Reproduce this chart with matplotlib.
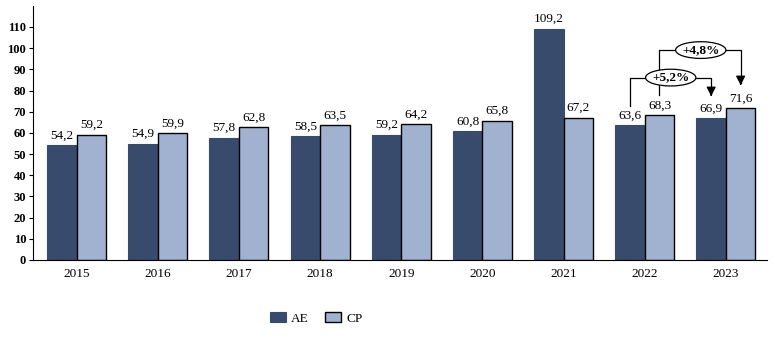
import matplotlib
matplotlib.use("Agg")
import matplotlib.pyplot as plt
from matplotlib.patches import Ellipse
import numpy as np

years = ["2015", "2016", "2017", "2018", "2019", "2020", "2021", "2022", "2023"]
ae = [54.2, 54.9, 57.8, 58.5, 59.2, 60.8, 109.2, 63.6, 66.9]
cp = [59.2, 59.9, 62.8, 63.5, 64.2, 65.8, 67.2, 68.3, 71.6]
growth_labels = ["+5,2%", "+4,8%"]
yticks = list(range(0, 111, 10))

plt.rcParams['font.family'] = ['Liberation Serif', 'DejaVu Serif']

fig = plt.figure(figsize=(7.77, 3.42), dpi=100)
ax = fig.add_axes([0.0425, 0.24, 0.9445, 0.743])

x = np.arange(len(years))
w = 0.363
c_ae = "#384b6c"
c_cp = "#a0b2d0"
b1 = ax.bar(x - w/2, ae, w, color=c_ae, edgecolor=c_ae, linewidth=0.8, label="AE", zorder=2)
b2 = ax.bar(x + w/2, cp, w, color=c_cp, edgecolor="black", linewidth=1.0, label="CP", zorder=2)

for xi, v in zip(x - w/2, ae):
    ax.annotate(f"{v:.1f}".replace(".", ","), (xi, v), xytext=(0, 2.5), textcoords="offset points",
                ha="center", va="bottom", fontsize=9.5)
for xi, v in zip(x + w/2, cp):
    ax.annotate(f"{v:.1f}".replace(".", ","), (xi, v), xytext=(0, 2.5), textcoords="offset points",
                ha="center", va="bottom", fontsize=9.5)

ax.set_xlim(-0.536, 8.505)
ax.set_ylim(0, 120)
ax.set_yticks(yticks)
ax.set_yticklabels([str(t) for t in yticks], fontsize=9, fontweight="bold")
ax.set_xticks(x)
ax.set_xticklabels(years, fontsize=9.5)
ax.tick_params(axis="x", length=0, pad=6)
ax.tick_params(axis="y", length=3, width=0.8, pad=2)
for s in ["top", "right"]:
    ax.spines[s].set_visible(False)
ax.spines["left"].set_linewidth(0.8)
ax.spines["bottom"].set_linewidth(0.8)

# growth brackets
def bracket(x0, x1, y0, ytop, ytip, label, xe):
    ax.plot([x0, x0, x1, x1], [y0, ytop, ytop, ytip + 2.5], color="black", lw=0.9, zorder=3)
    ax.annotate("", xy=(x1, ytip), xytext=(x1, ytip + 3.5),
                arrowprops=dict(arrowstyle="-|>,head_width=0.28,head_length=0.55", color="black", lw=0.9),
                zorder=4)
    ax.add_patch(Ellipse((xe, ytop), 0.62, 7.9, facecolor="white", edgecolor="black", lw=0.9, zorder=5))
    ax.text(xe, ytop, label, ha="center", va="center", fontsize=9.5, fontweight="bold", zorder=6)

bracket(7 - w/2, 8 - w/2, 72.7, 86.1, 76.0, growth_labels[0], 7.32)
bracket(7 + w/2, 8 + w/2, 77.9, 99.1, 81.2, growth_labels[1], 7.69)

fig.legend(handles=[b1, b2], labels=["AE", "CP"], loc="center", bbox_to_anchor=(0.407, 0.07),
           ncol=2, frameon=False, fontsize=9.5, handlelength=1.2, handleheight=0.9,
           columnspacing=1.2, handletextpad=0.4)

fig.savefig("out.png", dpi=100)
